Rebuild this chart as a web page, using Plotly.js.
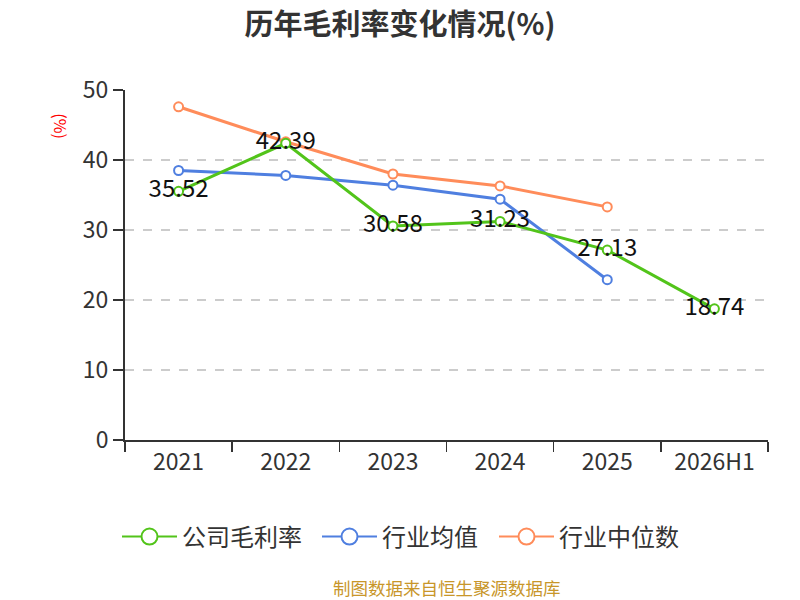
<!DOCTYPE html>
<html>
<head>
<meta charset="utf-8">
<script src="https://cdn.plot.ly/plotly-3.0.1.min.js"></script>
<style>html,body{margin:0;padding:0;background:#fff;}#chart{width:800px;height:600px;}</style>
</head>
<body>
<div id="chart"></div>
<script>
var categories = ['2021', '2022', '2023', '2024', '2025', '2026H1'];
var companyMargin = [35.52, 42.39, 30.58, 31.23, 27.13, 18.74];
var industryAvg = [38.5, 37.8, 36.4, 34.4, 22.9];
var industryMedian = [47.6, 42.6, 38.0, 36.3, 33.3];
var seriesNames = ['公司毛利率', '行业均值', '行业中位数'];
var seriesColors = ['#52c41a', '#4f7fe0', '#ff8c5a'];
var yTicks = [0, 10, 20, 30, 40, 50];

var font = '"Noto Sans CJK SC", "Noto Sans", sans-serif';

function mk(color, size) {
  return {size: size, color: '#ffffff', line: {color: color, width: 2}};
}

var traces = [
  {
    x: categories.slice(0, industryAvg.length), y: industryAvg, name: seriesNames[1],
    type: 'scatter', mode: 'lines+markers', showlegend: false,
    line: {color: seriesColors[1], width: 3}, marker: mk(seriesColors[1], 9)
  },
  {
    x: categories.slice(0, industryMedian.length), y: industryMedian, name: seriesNames[2],
    type: 'scatter', mode: 'lines+markers', showlegend: false,
    line: {color: seriesColors[2], width: 3}, marker: mk(seriesColors[2], 9)
  },
  {
    x: categories, y: companyMargin, name: seriesNames[0],
    type: 'scatter', mode: 'lines+markers+text', showlegend: false,
    text: companyMargin.map(function(v){return v.toFixed(2);}),
    textposition: 'middle center',
    textfont: {size: 24, color: '#111111', family: font},
    line: {color: seriesColors[0], width: 3}, marker: mk(seriesColors[0], 9)
  }
];

// legend-only entries (larger symbols, as in the reference legend), one legend box each
var legendIds = ['legend', 'legend2', 'legend3'];
seriesNames.forEach(function(n, i) {
  traces.push({
    x: [null], y: [null], name: n, type: 'scatter', mode: 'lines+markers',
    line: {color: seriesColors[i], width: 2}, marker: mk(seriesColors[i], 16),
    showlegend: true, hoverinfo: 'skip', legend: legendIds[i]
  });
});

function legendAt(px) {
  return {
    orientation: 'h', x: (px - 5 - 125) / 643, xanchor: 'left', y: -0.277, yanchor: 'middle',
    font: {size: 24, color: '#333333', family: font},
    itemwidth: 55, bgcolor: 'rgba(0,0,0,0)'
  };
}

var layout = {
  width: 800, height: 600,
  margin: {l: 125, r: 32, t: 90, b: 160},
  paper_bgcolor: '#ffffff', plot_bgcolor: '#ffffff',
  font: {family: font, color: '#333333'},
  title: {text: '<b>历年毛利率变化情况(%)</b>', font: {size: 29, color: '#333333', family: font}, x: 0.5, xanchor: 'center', y: 0.958, yanchor: 'middle'},
  xaxis: {
    type: 'category', range: [-0.5, 5.5],
    tickson: 'boundaries', ticks: 'outside', ticklen: 10, tickwidth: 1.5, tickcolor: '#333333',
    showline: true, linecolor: '#333333', linewidth: 2,
    showgrid: false, zeroline: false,
    tickfont: {size: 23, color: '#333333', family: font}
  },
  yaxis: {
    range: [0, 50], tickvals: yTicks, ticktext: yTicks.map(String),
    ticks: 'outside', ticklen: 10, tickwidth: 1.5, tickcolor: '#333333',
    showline: true, linecolor: '#333333', linewidth: 2,
    showgrid: true, gridcolor: '#cccccc', griddash: 'dash', gridwidth: 1.5,
    zeroline: false,
    tickfont: {size: 23, color: '#333333', family: font}
  },
  showlegend: true,
  legend: legendAt(122),
  legend2: legendAt(322),
  legend3: legendAt(499),
  annotations: [
    {text: '(%)', xref: 'paper', yref: 'paper', x: -0.1, y: 0.897, textangle: 90,
     showarrow: false, font: {size: 16, color: '#ff0000', family: font}, xanchor: 'center', yanchor: 'middle'},
    {text: '制图数据来自恒生聚源数据库', xref: 'paper', yref: 'paper', x: 0.5, y: -0.421,
     showarrow: false, font: {size: 17.5, color: '#c8962a', family: font}, xanchor: 'center', yanchor: 'middle'}
  ]
};

Plotly.newPlot('chart', traces, layout, {displayModeBar: false, staticPlot: true});
</script>
</body>
</html>
